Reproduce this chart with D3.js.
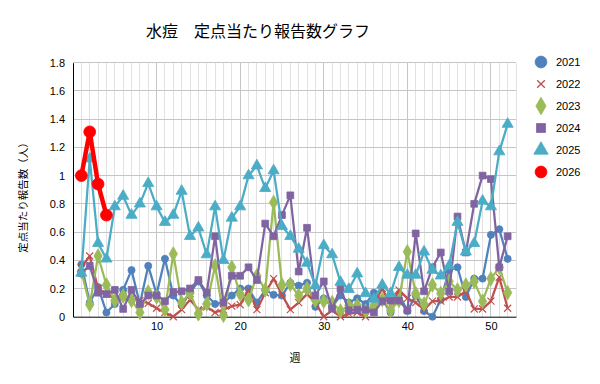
<!DOCTYPE html>
<html><head><meta charset="utf-8">
<script src="https://cdn.jsdelivr.net/npm/d3@7"></script>
<style>body{margin:0;background:#fff;}svg{display:block;font-family:"Noto Sans CJK JP","Liberation Sans",sans-serif;}</style>
</head><body><svg id="c" width="600" height="384"></svg>
<script>
const weeks = d3.range(1, 53);
const years = ["2021","2022","2023","2024","2025","2026"];
const v2021 = [0.37,0.10,0.21,0.03,0.09,0.19,0.33,0.09,0.36,0.16,0.41,0.15,0.08,0.17,0.25,0.15,0.09,0.10,0.15,0.20,0.20,0.10,0.19,0.155,0.15,0.24,0.22,0.24,0.07,0.13,0.07,0.15,0.10,0.13,0.09,0.17,0.12,0.03,0.16,0.04,0.15,0.04,0.00,0.12,0.33,0.35,0.14,0.27,0.27,0.58,0.62,0.41];
const v2022 = [0.35,0.43,0.20,0.16,0.13,0.14,0.13,0.115,0.095,0.06,0.03,0.00,0.05,0.12,0.05,0.07,0.03,0.05,0.075,0.085,0.19,0.05,0.17,0.27,0.155,0.05,0.10,0.16,0.10,0.00,0.045,0.00,0.02,0.03,0.00,0.09,0.20,0.08,0.19,0.13,0.10,0.05,0.11,0.11,0.14,0.14,0.18,0.055,0.055,0.11,0.28,0.06];
const v2023 = [0.32,0.085,0.43,0.225,0.115,0.147,0.115,0.03,0.175,0.14,0.05,0.445,0.10,0.17,0.02,0.09,0.36,0.01,0.35,0.16,0.12,0.29,0.19,0.81,0.225,0.23,0.15,0.20,0.115,0.11,0.10,0.04,0.08,0.08,0.04,0.08,0.12,0.045,0.115,0.46,0.165,0.09,0.225,0.165,0.25,0.19,0.225,0.25,0.11,0.27,0.35,0.17];
const v2024 = [0.31,0.36,0.17,0.16,0.19,0.055,0.19,0.09,0.15,0.15,0.11,0.175,0.18,0.20,0.26,0.17,0.57,0.10,0.29,0.29,0.35,0.26,0.66,0.57,0.72,0.86,0.32,0.63,0.15,0.25,0.057,0.20,0.045,0.05,0.05,0.03,0.11,0.115,0.115,0.045,0.59,0.18,0.35,0.455,0.18,0.71,0.455,0.80,1.00,0.975,0.35,0.57];
const v2025 = [0.31,1.12,0.52,0.41,0.78,0.855,0.72,0.80,0.945,0.78,0.67,0.72,0.89,0.57,0.63,0.44,0.78,0.40,0.70,0.78,1.00,1.07,0.91,1.035,0.64,0.57,0.48,0.38,0.22,0.505,0.44,0.245,0.195,0.305,0.165,0.125,0.225,0.165,0.35,0.295,0.295,0.46,0.33,0.29,0.36,0.67,0.46,0.52,0.82,0.78,1.17,1.365];
const v2026 = [1.00,1.31,0.94,0.72];
const yTicks = [0,0.2,0.4,0.6,0.8,1,1.2,1.4,1.6,1.8];
const xTicks = [10,20,30,40,50];
const title = "水痘　定点当たり報告数グラフ";
const yTitle = "定点当たり報告数（人）";
const xTitle = "週";

const seriesVals = [v2021,v2022,v2023,v2024,v2025,v2026];
const colors = ["#4F81BD","#C0504D","#9BBB59","#8064A2","#4BACC6","#FF0000"];
const shapes = ["circle","x","diamond","square","triangle","circle"];

const svg = d3.select("#c");
const L=73, R=516, T=62.7, B=316.7;
const x = d3.scaleLinear().domain([0,53]).range([L,R]);
const y = d3.scaleLinear().domain([0,1.8]).range([B,T]);

// gridlines
const g = svg.append("g");
g.selectAll(".vg").data(d3.range(1,54)).join("line")
  .attr("x1",d=>x(d)).attr("x2",d=>x(d)).attr("y1",T).attr("y2",B)
  .attr("stroke",d=>d%10===0?"#c6c6c6":"#e2e2e2").attr("stroke-width",1).attr("shape-rendering","crispEdges");
g.selectAll(".hg").data(yTicks.slice(1)).join("line")
  .attr("x1",L).attr("x2",R).attr("y1",d=>y(d)).attr("y2",d=>y(d))
  .attr("stroke","#c6c6c6").attr("stroke-width",1).attr("shape-rendering","crispEdges");

// axes
const ya = svg.append("g").attr("transform",`translate(${L},0)`)
  .call(d3.axisLeft(y).tickValues(yTicks).tickFormat(d=>String(+d.toFixed(1))).tickSize(0).tickPadding(8));
ya.select(".domain").attr("stroke","#000");
ya.selectAll("text").attr("font-size",11).attr("fill","#000").attr("font-family","Liberation Sans, Arial, sans-serif");
const xa = svg.append("g").attr("transform",`translate(0,${B})`)
  .call(d3.axisBottom(x).tickValues(xTicks).tickSize(0).tickPadding(6));
xa.select(".domain").attr("stroke","#000");
xa.selectAll("text").attr("font-size",11).attr("fill","#000").attr("font-family","Liberation Sans, Arial, sans-serif");

function sym(shape, size){
  const m = {circle:d3.symbolCircle,x:d3.symbolX,diamond:d3.symbolDiamond,square:d3.symbolSquare,triangle:d3.symbolTriangle};
  return d3.symbol().type(m[shape]).size(size)();
}
const mSize = [40,34,60,46,54,110];

seriesVals.forEach((vals,i)=>{
  const data = vals.map((v,j)=>({w:weeks[j],v}));
  const line = d3.line().x(d=>x(d.w)).y(d=>y(d.v));
  svg.append("path").datum(data).attr("d",line).attr("fill","none")
    .attr("stroke",colors[i]).attr("stroke-width",i===5?4.5:2.25).attr("stroke-linejoin","round");
  svg.append("g").selectAll("path").data(data).join("path")
    .attr("d",sym(shapes[i],mSize[i]))
    .attr("transform",d=>`translate(${x(d.w)},${y(d.v)})`)
    .attr("fill",shapes[i]==="x"?"none":colors[i])
    .attr("stroke",colors[i]).attr("stroke-width",shapes[i]==="x"?1.2:0.8);
});

// legend
const lg = svg.append("g");
const lSize = [110,40,90,80,90,110];
years.forEach((yr,i)=>{
  const cy = 62 + i*22;
  lg.append("path").attr("d",sym(shapes[i],lSize[i])).attr("transform",`translate(541,${cy})`)
    .attr("fill",shapes[i]==="x"?"none":colors[i]).attr("stroke",colors[i]).attr("stroke-width",shapes[i]==="x"?1.3:0.8);
  lg.append("text").attr("x",556).attr("y",cy+4).text(yr).attr("font-size",11)
    .attr("font-family","Liberation Sans, Arial, sans-serif").attr("fill","#000");
});

// titles
svg.append("text").attr("x",258).attr("y",37).attr("text-anchor","middle").attr("font-size",16)
  .attr("fill","#000").text(title);
svg.append("text").attr("transform","translate(27,195) rotate(-90)").attr("text-anchor","middle")
  .attr("font-size",10.5).attr("fill","#000").text(yTitle);
svg.append("text").attr("x",295).attr("y",362).attr("text-anchor","middle").attr("font-size",11)
  .attr("fill","#000").text(xTitle);
</script></body></html>
